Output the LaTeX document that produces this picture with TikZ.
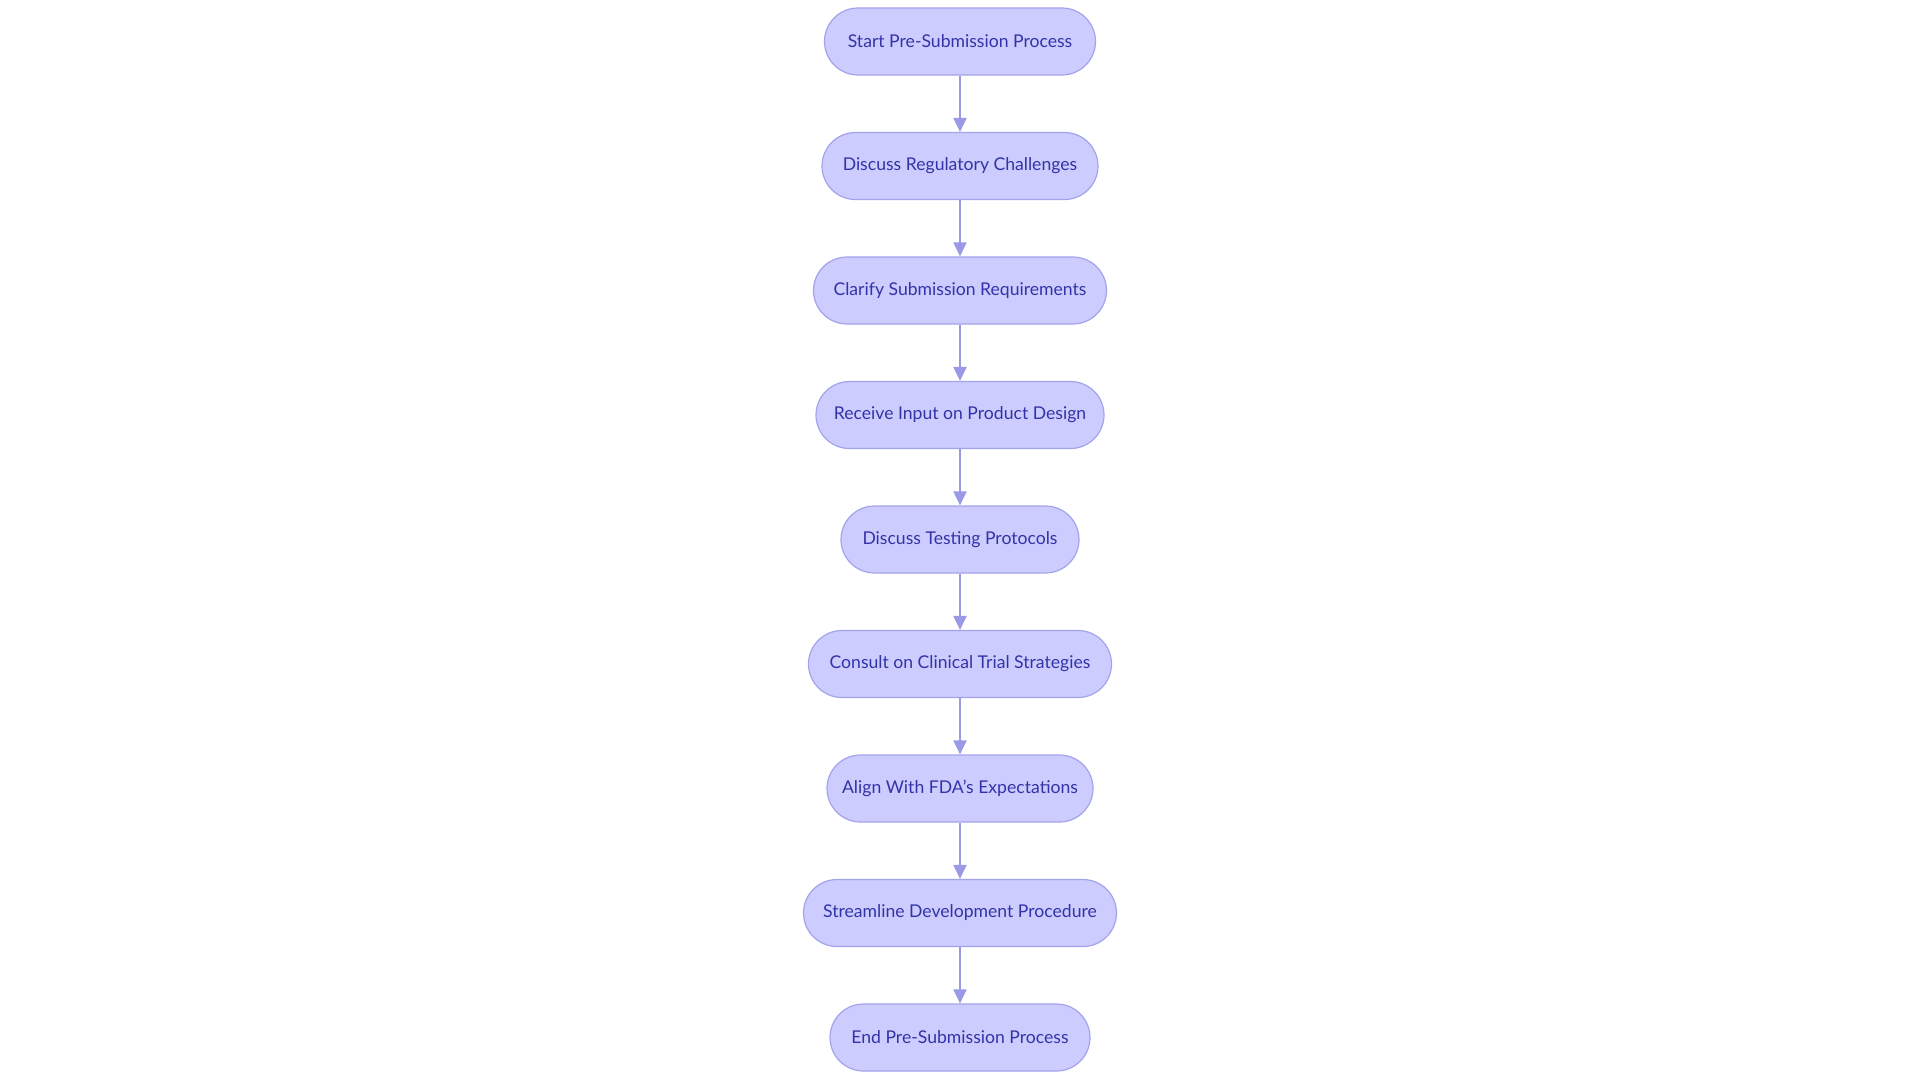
\documentclass[tikz,border=0pt]{standalone}
\usepackage{fontspec}
\setmainfont{Lato}
\usetikzlibrary{arrows.meta}
\definecolor{nodefill}{HTML}{CCCCFF}
\definecolor{nodeborder}{HTML}{A3A3EC}
\definecolor{nodetext}{HTML}{3333A8}
\definecolor{arrowcol}{HTML}{9999E6}
\tikzset{
  flowbox/.style={draw=nodeborder, line width=1.2pt, fill=nodefill, rounded corners=33.5pt,
    minimum height=67pt, inner sep=0pt, text=nodetext, font=\fontsize{17.6}{21}\selectfont},
  flowarrow/.style={draw=arrowcol, line width=2pt, -{Triangle[length=14pt,width=13pt]}}
}
\begin{document}
\begin{tikzpicture}[x=1pt,y=-1pt]
\useasboundingbox (0,0) rectangle (1920,1080);
\node[flowbox, minimum width=271pt] (n1) at (960,41.5) {Start Pre-Submission Process};
\node[flowbox, minimum width=276pt] (n2) at (960,166) {Discuss Regulatory Challenges};
\node[flowbox, minimum width=293pt] (n3) at (960,290.5) {Clarify Submission Requirements};
\node[flowbox, minimum width=288pt] (n4) at (960,415) {Receive Input on Product Design};
\node[flowbox, minimum width=238pt] (n5) at (960,539.5) {Discuss Testing Protocols};
\node[flowbox, minimum width=303pt] (n6) at (960,664) {Consult on Clinical Trial Strategies};
\node[flowbox, minimum width=266pt] (n7) at (960,788.5) {Align With FDA's Expectations};
\node[flowbox, minimum width=313pt] (n8) at (960,913) {Streamline Development Procedure};
\node[flowbox, minimum width=260pt] (n9) at (960,1037.5) {End Pre-Submission Process};
\foreach \a/\b in {n1/n2,n2/n3,n3/n4,n4/n5,n5/n6,n6/n7,n7/n8,n8/n9}
  \draw[flowarrow] (\a) -- (\b);
\end{tikzpicture}
\end{document}
